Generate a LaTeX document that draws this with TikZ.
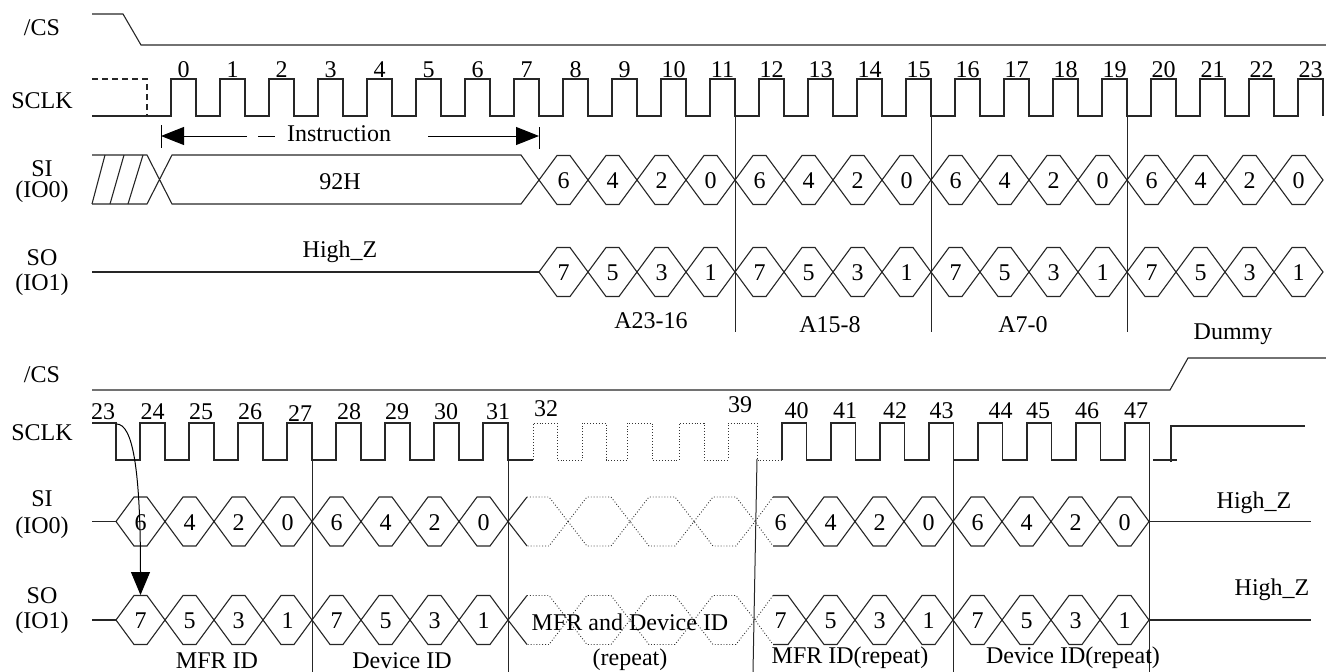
\documentclass[tikz,border=0pt]{standalone}
\usepackage{fontspec}
\setmainfont{Liberation Serif}
\usetikzlibrary{arrows.meta}
\newcommand\fs{\fontsize{24}{28}\selectfont}
\tikzset{
  wave/.style={line width=1.1pt, draw=black!85},
  dotwave/.style={line width=0.9pt, draw=black!80, dotted},
  divider/.style={line width=1pt, draw=black!85},
  lbl/.style={font=\fs, anchor=base, inner sep=0pt, outer sep=0pt},
  tri/.style={-{Triangle[length=23pt,width=18pt]}, line width=1pt},
}
\newcommand\hexcell[4]{%
  \pgfmathsetmacro\hL{#1}%
  \pgfmathsetmacro\hR{#1+#3}%
  \pgfmathsetmacro\hM{#2}%
  \draw[wave] (\hL,\hM) -- (\hL+18,\hM-24.5) -- (\hR-18,\hM-24.5) -- (\hR,\hM)
     -- (\hR-18,\hM+24.5) -- (\hL+18,\hM+24.5) -- cycle;
  \node[lbl] at ({(\hL+\hR)/2},\hM+8.5) {#4};
}
\newcommand\dothex[3]{%
  \pgfmathsetmacro\hL{#1}%
  \pgfmathsetmacro\hR{#2}%
  \pgfmathsetmacro\hM{#3}%
  \draw[dotwave] (\hL,\hM) -- (\hL+19,\hM-24.5) -- (\hR-19,\hM-24.5) -- (\hR,\hM)
     -- (\hR-19,\hM+24.5) -- (\hL+19,\hM+24.5) -- cycle;
}
\begin{document}
\begin{tikzpicture}[x=1pt,y=-1pt]
\useasboundingbox (0,0) rectangle (1326,672);

% ---------------- labels left ----------------
\node[lbl] (cs1) at (42,35) {/CS};
\node[lbl] (sclk1) at (42,108) {SCLK};
\node[lbl] (si1a) at (42,176) {SI};
\node[lbl] (si1b) at (42,197.5) {(IO0)};
\node[lbl] (so1a) at (42,265.7) {SO};
\node[lbl] (so1b) at (42,290.7) {(IO1)};

\node[lbl] (cs2) at (42,382.7) {/CS};
\node[lbl] (sclk2) at (42,440.7) {SCLK};
\node[lbl] (si2a) at (42,506.7) {SI};
\node[lbl] (si2b) at (42,533.3) {(IO0)};
\node[lbl] (so2a) at (42,603.3) {SO};
\node[lbl] (so2b) at (42,628.3) {(IO1)};

% ---------------- top /CS ----------------
\draw[wave] (92,14) -- (123,14) -- (141,45) -- (1326,45);

% ---------------- top SCLK ----------------
\draw[wave, dash pattern=on 6pt off 4pt] (92,79) -- (147,79) -- (147,116);
\draw[wave] (92,116) foreach \k in {0,...,23}{
   -- ({171+49*\k},116) -- ({171+49*\k},79) -- ({196+49*\k},79) -- ({196+49*\k},116)};
\foreach \k in {0,...,23}{
  \node[lbl] (n\k) at ({183.5+49*\k},77) {\k};
}

% ---------------- Instruction arrow ----------------
\coordinate (insL) at (161,136);
\coordinate (insR) at (539,136);
\coordinate (insLa) at (247,136);
\coordinate (insRa) at (428,136);
\draw[line width=1pt] (161,125) -- (161,148);
\draw[line width=1pt] (539,127) -- (539,149);
\draw[tri] (insLa) -- (insL);
\draw[tri] (insRa) -- (insR);
\draw[line width=1pt] (258,136) -- (275,136);
\node[lbl] (instr) at (339,141.7) {Instruction};

% ---------------- top SI ----------------
\draw[wave] (92,155) -- (147,155) -- (172,204) -- (521,204) -- (539,180) -- (521,155)
   -- (172,155) -- (147,204) -- (92,204);
\draw[wave] (92,204) -- (105,155);
\draw[wave] (110,204) -- (124,155);
\draw[wave] (128,204) -- (143,155);
\node[lbl] (h92) at (340,189.3) {92H};
\foreach \j in {0,...,15}{
  \pgfmathtruncatemacro\d{6-2*mod(\j,4)}
  \hexcell{539+49*\j}{180}{49}{\d}
}

% ---------------- top SO ----------------
\draw[wave] (92,272) -- (539,272);
\node[lbl] (hz1) at (340,257.3) {High\_Z};
\foreach \j in {0,...,15}{
  \pgfmathtruncatemacro\d{7-2*mod(\j,4)}
  \hexcell{539+49*\j}{272}{49}{\d}
}

% ---------------- top dividers ----------------
\draw[divider] (735,79) -- (735,332);
\draw[divider] (931,79) -- (931,332);
\draw[divider] (1127,79) -- (1127,332);
\node[lbl] (a2316) at (651,328.3) {A23-16};
\node[lbl] (a158) at (830,332) {A15-8};
\node[lbl] (a70) at (1023,332) {A7-0};
\node[lbl] (dum) at (1233,339.3) {Dummy};

% ---------------- bottom /CS ----------------
\draw[wave] (92,390) -- (1170,390) -- (1188,358) -- (1326,358);

% ---------------- bottom SCLK ----------------
\draw[wave] (92,423) -- (116,423) -- (116,460) foreach \k in {0,...,7}{
   -- ({140+49*\k},460) -- ({140+49*\k},423) -- ({165+49*\k},423) -- ({165+49*\k},460)}
   -- (533,460);
\draw[dotwave] (533,460) -- (533,423) -- (557,423) -- (557,460) -- (582,460) -- (582,423)
   -- (606,423) -- (606,460) -- (627,460) -- (627,423) -- (652,423) -- (652,460)
   -- (679,460) -- (679,423) -- (704,423) -- (704,460) -- (728,460) -- (728,423)
   -- (757,423) -- (757,460) -- (782,460);
\draw[wave] (782,460) foreach \k in {0,...,7}{
   -- ({782+49*\k},460) -- ({782+49*\k},423) -- ({806.5+49*\k},423) -- ({806.5+49*\k},460)};
\draw[wave] (1153,460) -- (1177,460);
\draw[wave] (1171,462) -- (1171,426) -- (1305,426);

\node[lbl] (b23) at (103,419) {23};
\node[lbl] (b24) at (152.5,419) {24};
\node[lbl] (b25) at (201,419) {25};
\node[lbl] (b26) at (250,419) {26};
\node[lbl] (b27) at (300,421.7) {27};
\node[lbl] (b28) at (349,419) {28};
\node[lbl] (b29) at (397,419) {29};
\node[lbl] (b30) at (446,419) {30};
\node[lbl] (b31) at (498,419) {31};
\node[lbl] (b32) at (546,416.7) {32};
\node[lbl] (b39) at (740,412.7) {39};
\node[lbl] (b40) at (796.7,418.3) {40};
\node[lbl] (b41) at (845,418.3) {41};
\node[lbl] (b42) at (895,418.3) {42};
\node[lbl] (b43) at (941.7,418.3) {43};
\node[lbl] (b44) at (1000.7,418.3) {44};
\node[lbl] (b45) at (1038,418.3) {45};
\node[lbl] (b46) at (1087,418.3) {46};
\node[lbl] (b47) at (1136,418.3) {47};

% ---------------- bottom SI / SO ----------------
\foreach \m/\base in {521.5/6, 620/7}{
  \draw[wave] (92,\m) -- (116,\m);
  \foreach \j in {0,...,7}{
    \pgfmathtruncatemacro\d{\base-2*mod(\j,4)}
    \hexcell{116+49*\j}{\m}{49}{\d}
  }
  % dotted region
  \draw[wave] (527,\m-24.5) -- (508,\m) -- (527,\m+24.5);
  \draw[dotwave] (527,\m-24.5) -- (549,\m-24.5) -- (568,\m) -- (549,\m+24.5) -- (527,\m+24.5);
  \dothex{568}{630}{\m}
  \dothex{630}{694}{\m}
  \dothex{694}{755}{\m}
  % first hex after dotted region (left side dotted)
  \draw[dotwave] (773,\m-24.5) -- (755,\m) -- (773,\m+24.5);
  \draw[wave] (773,\m-24.5) -- (788,\m-24.5) -- (806,\m) -- (788,\m+24.5) -- (773,\m+24.5);
  \node[lbl] at (780.5,\m+8.5) {\base};
  \foreach \j in {1,...,7}{
    \pgfmathtruncatemacro\d{\base-2*mod(\j,4)}
    \hexcell{757+49*\j}{\m}{49}{\d}
  }
  \draw[wave] (1149,\m) -- (1311,\m);
}
\node[lbl] (hz2) at (1254,508.3) {High\_Z};
\node[lbl] (hz3) at (1272,595) {High\_Z};

% ---------------- bottom dividers ----------------
\draw[divider] (312,423) -- (312,672);
\draw[divider] (508,423) -- (508,672);
\draw[divider] (757,459) -- (753,672);
\draw[divider] (953,423) -- (953,672);
\draw[divider] (1149,423) -- (1149,672);

\node[lbl] (mfr) at (217,668) {MFR ID};
\node[lbl] (dev) at (402,668) {Device ID};
\node[lbl] (mfrdev) at (630,630) {MFR and Device ID};
\node[lbl] (rep) at (630,665) {(repeat)};
\node[lbl] (mfrr) at (850,663.3) {MFR ID(repeat)};
\node[lbl] (devr) at (1073,663.3) {Device ID(repeat)};

% ---------------- arrow from SCLK edge to SO ----------------
\coordinate (arrS) at (116.5,424);
\coordinate (arrE) at (140.5,595);
\draw[-{Triangle[length=23pt,width=19pt]}, line width=1pt]
  (arrS) .. controls (133,424) and (140.5,470) .. (arrE);
\end{tikzpicture}
\end{document}
